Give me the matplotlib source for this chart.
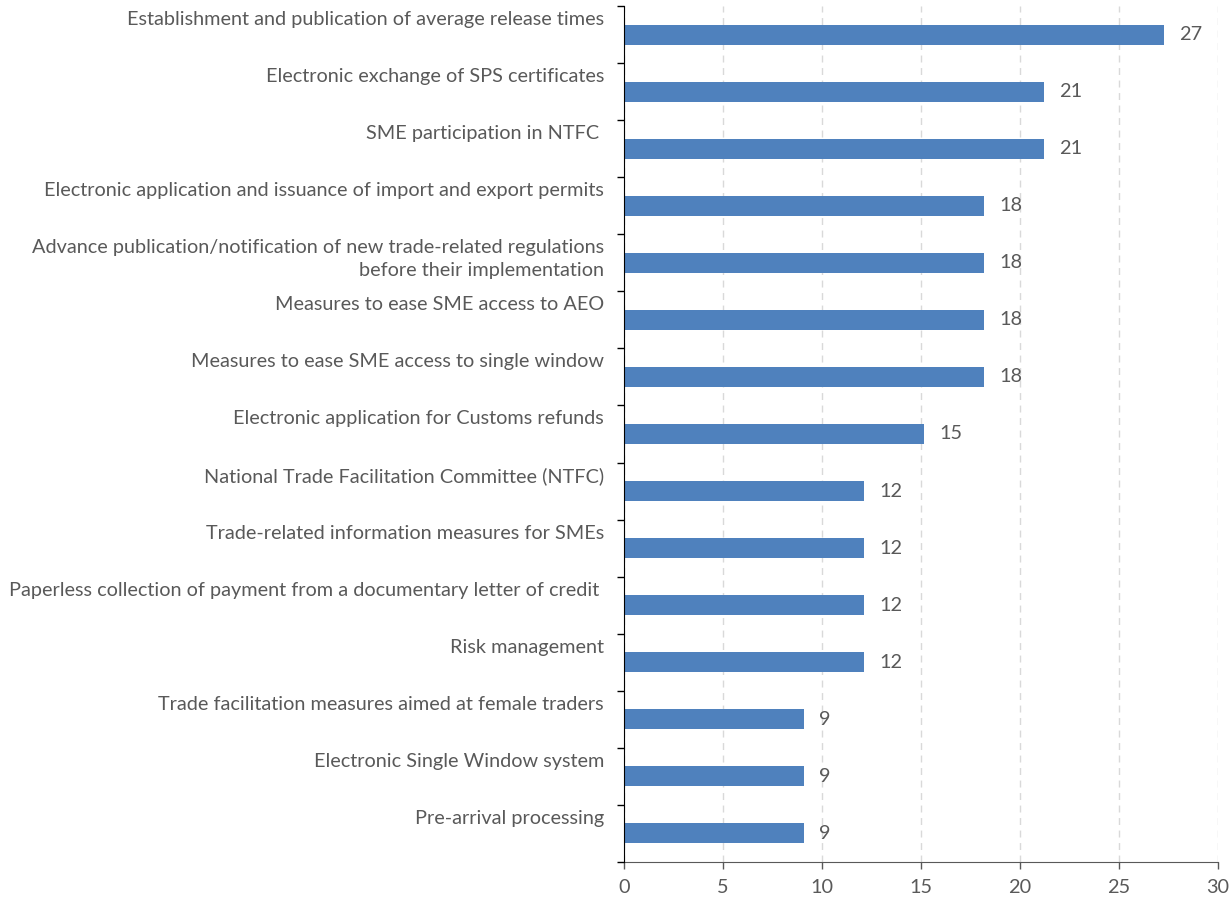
import matplotlib
matplotlib.use("Agg")
import matplotlib.pyplot as plt
from matplotlib.transforms import blended_transform_factory, ScaledTranslation

plt.rcParams['font.family'] = ['Lato', 'DejaVu Sans']

measures = [
    "Establishment and publication of average release times",
    "Electronic exchange of SPS certificates",
    "SME participation in NTFC ",
    "Electronic application and issuance of import and export permits",
    "Advance publication/notification of new trade-related regulations\nbefore their implementation",
    "Measures to ease SME access to AEO",
    "Measures to ease SME access to single window",
    "Electronic application for Customs refunds",
    "National Trade Facilitation Committee (NTFC)",
    "Trade-related information measures for SMEs",
    "Paperless collection of payment from a documentary letter of credit ",
    "Risk management",
    "Trade facilitation measures aimed at female traders",
    "Electronic Single Window system",
    "Pre-arrival processing",
]
shares = [27.27, 21.21, 21.21, 18.18, 18.18, 18.18, 18.18, 15.15,
          12.12, 12.12, 12.12, 12.12, 9.09, 9.09, 9.09]
x_ticks = [0, 5, 10, 15, 20, 25, 30]

TEXT = '#595959'
BAR = '#4F81BD'
FS = 14.3

fig = plt.figure(figsize=(12.29, 8.99), dpi=100)
ax = fig.add_axes([0.5077, 0.0412, 0.4833, 0.9521])

n = len(measures)
ypos = list(range(n))
ax.barh(ypos, shares, height=0.35, color=BAR, zorder=3)

ax.set_xlim(0, 30)
ax.set_ylim(n - 0.5, -0.5)
ax.set_xticks(x_ticks)
ax.set_xticklabels([str(t) for t in x_ticks], fontsize=FS, color=TEXT)

# category boundaries carry the y tick marks
ax.set_yticks([i - 0.5 for i in range(n + 1)])
ax.set_yticklabels([])
ax.tick_params(axis='y', length=5, color='#000000', width=1)
ax.tick_params(axis='x', length=5, color='#595959', width=1, pad=7)

# category labels hang from the top of their band
trans = blended_transform_factory(ax.transAxes, ax.transData) + \
    ScaledTranslation(-20 / 100, -5 / 100, fig.dpi_scale_trans)
for i, name in enumerate(measures):
    ax.text(0, i - 0.5, name, transform=trans, ha='right', va='top',
            fontsize=FS, color=TEXT, linespacing=1.4)

for i, v in enumerate(shares):
    ax.annotate(f"{v:.0f}", (v, i), xytext=(11, 0), textcoords='offset points',
                ha='left', va='center', fontsize=FS, color=TEXT)

ax.grid(axis='x', color='#D9D9D9', linestyle=(0, (5, 4)), linewidth=1, zorder=0)
for s in ('top', 'right'):
    ax.spines[s].set_visible(False)
ax.spines['left'].set_color('#000000')
ax.spines['bottom'].set_color('#595959')
ax.spines['left'].set_zorder(4)

fig.savefig('out.png', dpi=100)
